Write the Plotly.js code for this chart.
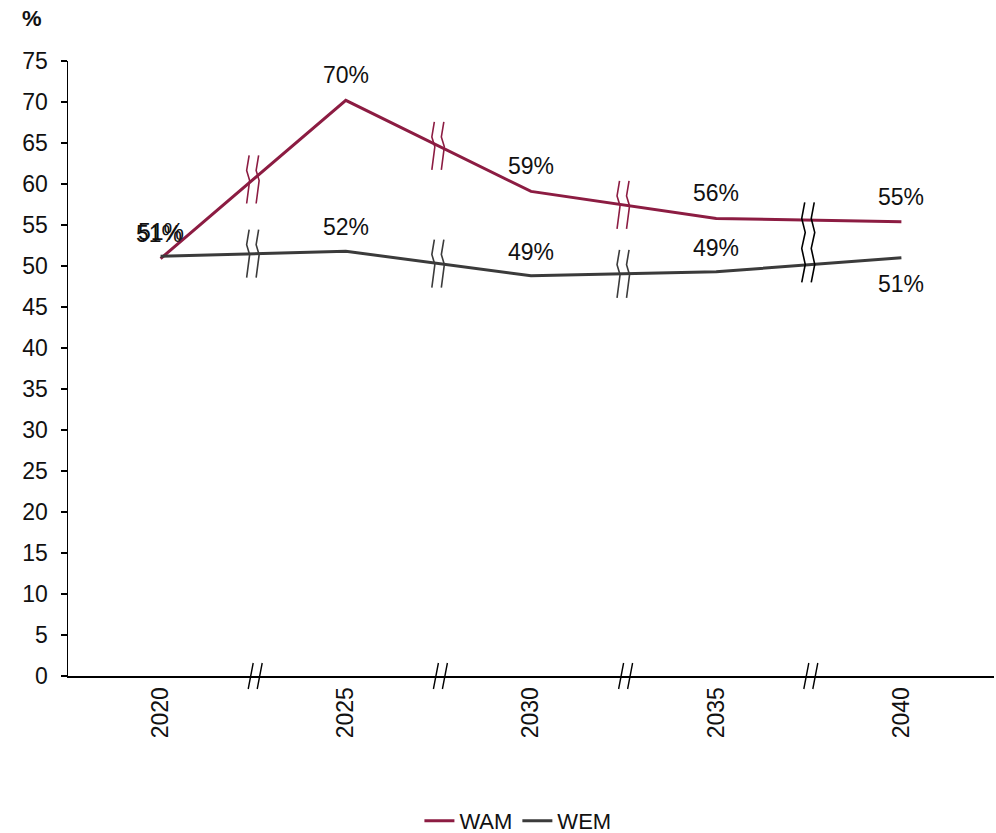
<!DOCTYPE html>
<html>
<head>
<meta charset="utf-8">
<script src="https://cdn.plot.ly/plotly-3.0.1.min.js"></script>
<style>html,body{margin:0;padding:0;background:#fff;}#chart{width:996px;height:833px;}</style>
</head>
<body>
<div id="chart"></div>
<script>
// ---- data ----
const years = ['2020', '2025', '2030', '2035', '2040'];
const wam = [50.9, 70.2, 59.1, 55.8, 55.4];
const wem = [51.2, 51.8, 48.8, 49.3, 51.0];
const yTicks = [0, 5, 10, 15, 20, 25, 30, 35, 40, 45, 50, 55, 60, 65, 70, 75];
const wemLabelBelow = [false, false, false, false, true];

const FONT = 'Liberation Sans, Arial, sans-serif';
const WAM_COLOR = '#8c1c42';
const WEM_COLOR = '#3b3b3b';

const traces = [
  {x: years, y: wam, name: 'WAM', type: 'scatter', mode: 'lines',
   line: {color: WAM_COLOR, width: 3}, hoverinfo: 'skip'},
  {x: years, y: wem, name: 'WEM', type: 'scatter', mode: 'lines',
   line: {color: WEM_COLOR, width: 3}, hoverinfo: 'skip'}
];

// data labels
const annotations = [];
years.forEach((yr, i) => {
  annotations.push({x: i, y: wam[i], xref: 'x', yref: 'y', text: Math.round(wam[i]) + '%',
    showarrow: false, yshift: 25, xshift: i === 0 ? -2 : 0, font: {family: FONT, size: 23, color: '#111'}});
  annotations.push({x: i, y: wem[i], xref: 'x', yref: 'y', text: Math.round(wem[i]) + '%',
    showarrow: false, yshift: wemLabelBelow[i] ? -26 : 24, font: {family: FONT, size: 23, color: '#111'}});
});

// break marks
const shortWave = 'M 1.5,24 L -1,9 L 2,-1 L -1,-24';
const shortWave2 = 'M 11,24 L 8.5,9 L 11.5,-1 L 8.5,-24';
const longWave = 'M 1.5,40 L -1.5,24 L 2,10 L -1.5,-6 L 2,-22 L -1.5,-40';
const longWave2 = 'M 11,40 L 8,24 L 11.5,10 L 8,-6 L 11.5,-22 L 8,-40';
const shapes = [];
for (let i = 0; i < years.length - 1; i++) {
  const xa = i + 0.5;
  const mWam = (wam[i] + wam[i + 1]) / 2;
  const mWem = (wem[i] + wem[i + 1]) / 2;
  if (i < years.length - 2) {
    [[mWam, WAM_COLOR], [mWem, WEM_COLOR]].forEach(([m, c]) => {
      [shortWave, shortWave2].forEach(p => shapes.push({type: 'path', xref: 'x', yref: 'y',
        xsizemode: 'pixel', ysizemode: 'pixel', xanchor: xa - 0.03, yanchor: m, path: p,
        line: {color: c, width: 1.6}}));
    });
  } else {
    const m = (mWam + mWem) / 2;
    [longWave, longWave2].forEach(p => shapes.push({type: 'path', xref: 'x', yref: 'y',
      xsizemode: 'pixel', ysizemode: 'pixel', xanchor: xa - 0.03, yanchor: m, path: p,
      line: {color: '#000', width: 1.6}}));
  }
  // axis "//"
  shapes.push({type: 'path', xref: 'paper', yref: 'paper', xsizemode: 'pixel', ysizemode: 'pixel',
    xanchor: (i + 1) / years.length, yanchor: 0,
    path: 'M 0,13 L -5,-13 M 9,13 L 4,-13', line: {color: '#000', width: 1.4}});
}

const layout = {
  width: 996, height: 833,
  margin: {l: 68, r: 2, t: 61, b: 157},
  paper_bgcolor: '#fff', plot_bgcolor: '#fff',
  font: {family: FONT, size: 23, color: '#111'},
  title: {text: '<b>%</b>', x: 22 / 996, xanchor: 'left', xref: 'container',
    y: 1 - 18 / 833, yanchor: 'middle', yref: 'container',
    font: {family: FONT, size: 22, color: '#111'}},
  xaxis: {type: 'category', range: [-0.5, years.length - 0.5], showgrid: false, zeroline: false,
    showline: true, linecolor: '#000', linewidth: 2, ticks: '', tickangle: -90,
    tickfont: {family: FONT, size: 23, color: '#111'}, fixedrange: true},
  yaxis: {range: [0, 75], tickvals: yTicks, ticktext: yTicks.map(String), showgrid: false,
    zeroline: false, showline: true, linecolor: '#000', linewidth: 1.5, ticks: 'outside',
    ticklen: 6, tickcolor: '#000', tickwidth: 1.5, ticklabelstandoff: 8,
    tickfont: {family: FONT, size: 23, color: '#111'}, fixedrange: true},
  showlegend: true,
  legend: {orientation: 'h', x: 0.52, xanchor: 'center', xref: 'container', y: 12 / 833,
    yref: 'container', yanchor: 'middle', font: {family: FONT, size: 22, color: '#111'},
    itemwidth: 30, traceorder: 'normal'},
  annotations: annotations,
  shapes: shapes
};

Plotly.newPlot('chart', traces, layout, {displayModeBar: false, staticPlot: true});
</script>
</body>
</html>
